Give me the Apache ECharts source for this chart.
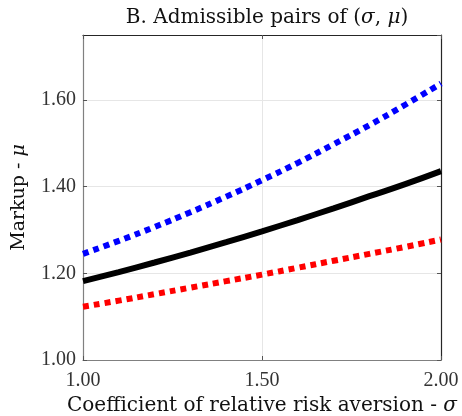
<!DOCTYPE html>
<html>
<head>
<meta charset="utf-8">
<script src="https://cdn.jsdelivr.net/npm/echarts@6/dist/echarts.min.js"></script>
<style>html,body{margin:0;padding:0;background:#fff;}#c{width:462px;height:416px;}</style>
</head>
<body>
<div id="c"></div>
<script>
var sigma = [1.0, 1.1, 1.2, 1.3, 1.4, 1.5, 1.6, 1.7, 1.8, 1.9, 2.0];
var muBlue  = [1.245, 1.275, 1.307, 1.341, 1.377, 1.415, 1.455, 1.498, 1.542, 1.589, 1.638];
var muBlack = [1.182, 1.203, 1.225, 1.248, 1.272, 1.297, 1.323, 1.350, 1.378, 1.406, 1.436];
var muRed   = [1.123, 1.137, 1.152, 1.167, 1.182, 1.197, 1.213, 1.229, 1.245, 1.261, 1.278];
var xTicks = [1.0, 1.5, 2.0];
var yTicks = [1.0, 1.2, 1.4, 1.6];
var titleText = 'B. Admissible pairs of ({i|\u03c3}, {i|\u03bc})';
var xName = 'Coefficient of relative risk aversion - {i|\u03c3}';
var yName = 'Markup - {i|\u03bc}';

function pairs(ys){ return sigma.map(function(s,i){ return [s, ys[i]]; }); }
var font = 'DejaVu Serif';
var tfont = 'Liberation Serif';
function ital(sz){ return {fontFamily: font, fontStyle: 'italic', fontSize: sz, color: '#111'}; }
var chart = echarts.init(document.getElementById('c'), null, {renderer:'canvas'});
chart.setOption({
  animation: false,
  backgroundColor: '#fff',
  title: {
    text: titleText, left: 262, top: 3, textAlign: 'center',
    textStyle: {fontFamily: font, fontSize: 20, fontWeight: 'normal', color: '#111',
      rich: {i: ital(20)}}
  },
  grid: {left: 83, right: 21, top: 35, bottom: 56, containLabel: false, outerBoundsMode: 'none'},
  xAxis: [{
    type: 'value', min: xTicks[0], max: xTicks[xTicks.length-1], interval: 0.5,
    name: xName, nameLocation: 'middle', nameGap: 34,
    nameTextStyle: {fontFamily: font, fontSize: 20, color: '#111', rich: {i: ital(20)}},
    axisLine: {show: true, lineStyle: {color: '#808080', width: 1.2}},
    axisTick: {show: true, inside: true, length: 4, lineStyle: {color: '#555'}},
    axisLabel: {fontFamily: tfont, fontSize: 20, color: '#333', margin: 11,
      formatter: function(v){ return v.toFixed(2); }},
    splitLine: {show: true, lineStyle: {color: '#e6e6e6', width: 1}}
  }, {
    type: 'value', position: 'top', min: 1, max: 2, interval: 0.5,
    axisLine: {show: true, lineStyle: {color: '#262626', width: 1.2}},
    axisTick: {show: true, inside: true, length: 4, lineStyle: {color: '#555'}},
    axisLabel: {show: false}, splitLine: {show: false}
  }],
  yAxis: [{
    type: 'value', min: yTicks[0], max: 1.75, interval: 0.2,
    name: yName, nameLocation: 'middle', nameGap: 54,
    nameTextStyle: {fontFamily: font, fontSize: 19, color: '#111', rich: {i: ital(19)}},
    axisLine: {show: true, lineStyle: {color: '#808080', width: 1.2}},
    axisTick: {show: true, inside: true, length: 4, lineStyle: {color: '#555'}},
    axisLabel: {fontFamily: tfont, fontSize: 20, color: '#333', margin: 7, showMaxLabel: false,
      formatter: function(v){ return v > 1.7 ? '' : v.toFixed(2); }},
    splitLine: {show: true, lineStyle: {color: '#e6e6e6', width: 1}}
  }, {
    type: 'value', position: 'right', min: 1, max: 1.75, interval: 0.2,
    axisLine: {show: true, lineStyle: {color: '#262626', width: 1.2}},
    axisTick: {show: true, inside: true, length: 4, lineStyle: {color: '#555'}},
    axisLabel: {show: false}, splitLine: {show: false}
  }],
  series: [
    {type: 'line', data: pairs(muBlue), symbol: 'none', smooth: true,
      lineStyle: {color: '#0000ff', width: 6, type: [6, 5], cap: 'butt'}},
    {type: 'line', data: pairs(muBlack), symbol: 'none', smooth: true,
      lineStyle: {color: '#000000', width: 6}},
    {type: 'line', data: pairs(muRed), symbol: 'none', smooth: true,
      lineStyle: {color: '#ff0000', width: 6, type: [6, 5], cap: 'butt'}}
  ]
});
</script>
</body>
</html>
